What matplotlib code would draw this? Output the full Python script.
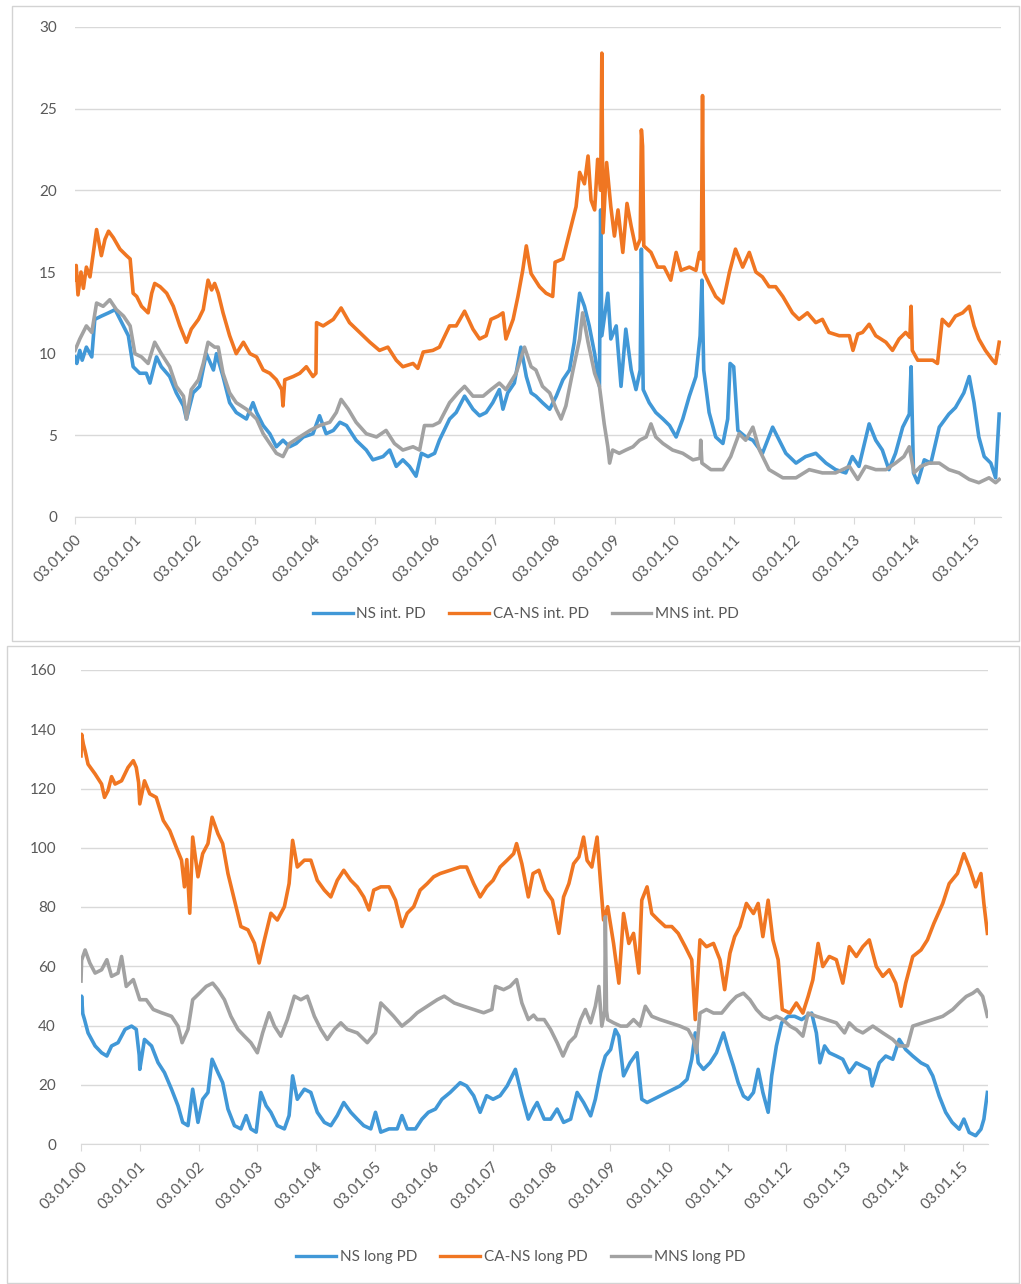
import numpy as np
import pandas as pd
import matplotlib
matplotlib.use("Agg")
import matplotlib.pyplot as plt
import matplotlib.dates as mdates
import matplotlib.transforms as mtransforms
from matplotlib.patches import Rectangle

plt.rcParams["font.family"] = ["Lato", "DejaVu Sans"]

START = pd.Timestamp("2000-01-03")
TICK_DATES = [pd.Timestamp(f"20{y:02d}-01-03") for y in range(16)]

BLUE = "#4198d7"
ORANGE = "#f07622"
GRAY = "#a2a2a2"
TEXT = "#595959"
GRID = "#d9d9d9"

# series as (years after 03.01.2000, PD value)
ns_int = [
    (0.00, 9.8), (0.03, 9.4), (0.08, 10.2), (0.12, 9.6), (0.19, 10.4), (0.28, 9.8),
    (0.33, 12.1), (0.44, 12.3), (0.56, 12.5), (0.67, 12.7), (0.78, 11.9), (0.89, 11.1),
    (0.97, 9.2), (1.08, 8.8), (1.19, 8.8), (1.25, 8.2), (1.36, 9.8), (1.44, 9.2),
    (1.58, 8.6), (1.69, 7.6), (1.81, 6.8), (1.86, 6.0), (1.97, 7.6), (2.08, 8.0),
    (2.19, 10.0), (2.31, 9.0), (2.36, 10.0), (2.47, 8.6), (2.58, 7.0), (2.69, 6.4),
    (2.86, 6.0), (2.97, 7.0), (3.03, 6.4), (3.14, 5.6), (3.25, 5.1), (3.36, 4.3),
    (3.47, 4.7), (3.58, 4.3), (3.69, 4.5), (3.81, 4.9), (3.97, 5.1), (4.08, 6.2),
    (4.19, 5.1), (4.31, 5.3), (4.42, 5.8), (4.53, 5.6), (4.69, 4.7), (4.86, 4.1),
    (4.97, 3.5), (5.14, 3.7), (5.25, 4.1), (5.36, 3.1), (5.47, 3.5), (5.58, 3.1),
    (5.69, 2.5), (5.78, 3.9), (5.89, 3.7), (6.00, 3.9), (6.08, 4.7), (6.25, 6.0),
    (6.36, 6.4), (6.50, 7.4), (6.64, 6.6), (6.75, 6.2), (6.86, 6.4), (6.97, 7.0),
    (7.08, 7.8), (7.14, 6.6), (7.22, 7.6), (7.33, 8.2), (7.44, 10.4), (7.53, 8.6),
    (7.61, 7.6), (7.69, 7.4), (7.80, 7.0), (7.92, 6.6), (8.03, 7.4), (8.14, 8.4),
    (8.25, 9.0), (8.33, 10.7), (8.42, 13.7), (8.50, 12.9), (8.58, 11.7), (8.67, 10.0),
    (8.75, 8.0), (8.77, 18.8), (8.79, 11.1), (8.89, 13.7), (8.94, 10.9), (9.03, 11.7),
    (9.11, 8.0), (9.19, 11.5), (9.28, 9.0), (9.36, 7.8), (9.43, 9.0), (9.45, 16.4),
    (9.48, 7.8), (9.58, 7.0), (9.69, 6.4), (9.81, 6.0), (9.92, 5.6), (10.03, 4.9),
    (10.14, 6.0), (10.25, 7.4), (10.36, 8.6), (10.43, 11.1), (10.46, 14.5), (10.49, 9.0),
    (10.58, 6.4), (10.69, 4.9), (10.81, 4.5), (10.89, 6.0), (10.93, 9.4), (10.99, 9.2),
    (11.06, 5.3), (11.19, 4.9), (11.31, 4.7), (11.47, 3.9), (11.64, 5.5), (11.75, 4.7),
    (11.86, 3.9), (12.03, 3.3), (12.19, 3.7), (12.36, 3.9), (12.53, 3.3), (12.69, 2.9),
    (12.86, 2.7), (12.97, 3.7), (13.08, 3.1), (13.25, 5.7), (13.36, 4.7), (13.47, 4.1),
    (13.58, 2.9), (13.69, 3.9), (13.81, 5.5), (13.92, 6.3), (13.95, 9.2), (13.99, 2.7),
    (14.06, 2.1), (14.17, 3.5), (14.28, 3.3), (14.42, 5.5), (14.58, 6.3), (14.69, 6.7),
    (14.83, 7.6), (14.92, 8.6), (15.00, 7.0), (15.08, 4.9), (15.17, 3.7), (15.28, 3.3),
    (15.36, 2.4), (15.42, 6.3),
]
cans_int = [
    (0.00, 14.5), (0.02, 15.4), (0.05, 13.6), (0.10, 15.0), (0.14, 14.0), (0.19, 15.3),
    (0.25, 14.7), (0.30, 16.0), (0.33, 16.8), (0.36, 17.6), (0.44, 16.0), (0.50, 17.0),
    (0.56, 17.5), (0.64, 17.1), (0.75, 16.4), (0.86, 16.0), (0.92, 15.8), (0.97, 13.7),
    (1.03, 13.5), (1.11, 12.9), (1.22, 12.5), (1.28, 13.7), (1.33, 14.3), (1.42, 14.1),
    (1.53, 13.7), (1.64, 12.9), (1.75, 11.7), (1.86, 10.7), (1.94, 11.5), (2.06, 12.1),
    (2.14, 12.7), (2.22, 14.5), (2.28, 13.9), (2.33, 14.3), (2.39, 13.7), (2.47, 12.5),
    (2.58, 11.1), (2.69, 10.0), (2.81, 10.7), (2.92, 10.0), (3.03, 9.8), (3.14, 9.0),
    (3.25, 8.8), (3.36, 8.4), (3.45, 7.8), (3.47, 6.8), (3.50, 8.4), (3.64, 8.6),
    (3.75, 8.8), (3.86, 9.2), (3.97, 8.6), (4.02, 8.8), (4.03, 11.9), (4.14, 11.7),
    (4.31, 12.1), (4.44, 12.8), (4.58, 11.9), (4.75, 11.3), (4.92, 10.7), (5.08, 10.2),
    (5.22, 10.4), (5.36, 9.6), (5.47, 9.2), (5.64, 9.4), (5.72, 9.1), (5.81, 10.1),
    (5.97, 10.2), (6.08, 10.4), (6.25, 11.7), (6.36, 11.7), (6.50, 12.6), (6.64, 11.5),
    (6.75, 10.9), (6.86, 11.1), (6.94, 12.1), (7.06, 12.3), (7.14, 12.5), (7.19, 10.9),
    (7.31, 12.1), (7.39, 13.5), (7.47, 15.1), (7.53, 16.6), (7.58, 15.5), (7.61, 14.9),
    (7.75, 14.1), (7.86, 13.7), (7.97, 13.5), (8.01, 15.6), (8.14, 15.8), (8.25, 17.4),
    (8.36, 19.0), (8.42, 21.1), (8.50, 20.4), (8.56, 22.1), (8.61, 19.4), (8.67, 18.8),
    (8.72, 21.9), (8.77, 20.0), (8.79, 28.4), (8.81, 17.4), (8.87, 21.7), (8.94, 19.0),
    (9.00, 17.2), (9.06, 18.8), (9.14, 16.2), (9.21, 19.2), (9.28, 17.8), (9.36, 16.4),
    (9.43, 17.0), (9.45, 23.7), (9.47, 22.7), (9.49, 16.6), (9.61, 16.2), (9.72, 15.3),
    (9.83, 15.3), (9.94, 14.5), (10.03, 16.2), (10.11, 15.1), (10.25, 15.3), (10.36, 15.1),
    (10.42, 16.2), (10.45, 15.8), (10.47, 25.8), (10.49, 15.0), (10.58, 14.3), (10.69, 13.5),
    (10.81, 13.1), (10.92, 15.0), (11.02, 16.4), (11.14, 15.3), (11.25, 16.2), (11.36, 15.0),
    (11.47, 14.7), (11.58, 14.1), (11.69, 14.1), (11.81, 13.5), (11.97, 12.5), (12.08, 12.1),
    (12.22, 12.5), (12.36, 11.9), (12.47, 12.1), (12.58, 11.3), (12.75, 11.1), (12.92, 11.1),
    (12.98, 10.2), (13.06, 11.2), (13.14, 11.3), (13.25, 11.8), (13.36, 11.1), (13.53, 10.7),
    (13.64, 10.2), (13.75, 10.9), (13.86, 11.3), (13.93, 11.0), (13.95, 12.9), (13.97, 10.2),
    (14.06, 9.6), (14.19, 9.6), (14.31, 9.6), (14.39, 9.4), (14.47, 12.1), (14.58, 11.7),
    (14.69, 12.3), (14.81, 12.5), (14.92, 12.9), (15.00, 11.7), (15.08, 10.9), (15.19, 10.2),
    (15.31, 9.6), (15.36, 9.4), (15.42, 10.7),
]
mns_int = [
    (0.00, 10.2), (0.08, 10.9), (0.19, 11.7), (0.28, 11.3), (0.36, 13.1), (0.47, 12.9),
    (0.58, 13.3), (0.69, 12.7), (0.81, 12.3), (0.92, 11.7), (1.00, 10.0), (1.11, 9.8),
    (1.22, 9.4), (1.33, 10.7), (1.44, 10.0), (1.58, 9.2), (1.69, 8.0), (1.81, 7.4),
    (1.86, 6.0), (1.94, 7.8), (2.06, 8.4), (2.14, 9.4), (2.22, 10.7), (2.33, 10.4),
    (2.39, 10.4), (2.47, 8.8), (2.58, 7.6), (2.69, 7.0), (2.86, 6.6), (3.03, 6.0),
    (3.14, 5.1), (3.25, 4.5), (3.36, 3.9), (3.47, 3.7), (3.58, 4.5), (3.75, 4.9),
    (3.92, 5.3), (4.08, 5.6), (4.25, 5.8), (4.36, 6.4), (4.44, 7.2), (4.56, 6.6),
    (4.69, 5.8), (4.86, 5.1), (5.03, 4.9), (5.19, 5.3), (5.33, 4.5), (5.47, 4.1),
    (5.64, 4.3), (5.75, 4.1), (5.83, 5.6), (5.97, 5.6), (6.08, 5.8), (6.25, 7.0),
    (6.39, 7.6), (6.50, 8.0), (6.64, 7.4), (6.81, 7.4), (6.94, 7.8), (7.08, 8.2),
    (7.19, 7.8), (7.36, 8.8), (7.50, 10.4), (7.61, 9.2), (7.69, 9.0), (7.80, 8.0),
    (7.92, 7.6), (8.03, 6.6), (8.11, 6.0), (8.19, 6.8), (8.31, 9.0), (8.42, 10.9),
    (8.47, 12.5), (8.56, 10.7), (8.67, 8.8), (8.75, 8.0), (8.83, 5.7), (8.89, 4.3),
    (8.92, 3.3), (8.97, 4.1), (9.08, 3.9), (9.19, 4.1), (9.31, 4.3), (9.42, 4.7),
    (9.53, 4.9), (9.61, 5.7), (9.69, 4.9), (9.81, 4.5), (9.97, 4.1), (10.14, 3.9),
    (10.31, 3.5), (10.43, 3.6), (10.44, 4.7), (10.46, 3.3), (10.61, 2.9), (10.81, 2.9),
    (10.94, 3.7), (11.08, 5.1), (11.19, 4.7), (11.31, 5.5), (11.42, 4.1), (11.58, 2.9),
    (11.81, 2.4), (12.03, 2.4), (12.25, 2.9), (12.47, 2.7), (12.69, 2.7), (12.92, 3.1),
    (13.06, 2.3), (13.19, 3.1), (13.36, 2.9), (13.53, 2.9), (13.69, 3.3), (13.83, 3.7),
    (13.92, 4.3), (14.00, 2.7), (14.11, 3.1), (14.25, 3.3), (14.42, 3.3), (14.58, 2.9),
    (14.75, 2.7), (14.92, 2.3), (15.08, 2.1), (15.25, 2.4), (15.36, 2.1), (15.42, 2.3),
]

ns_long = [
    (0.00, 45.0), (0.01, 49.9), (0.03, 44.0), (0.06, 42.0), (0.12, 37.5), (0.24, 33.1),
    (0.35, 30.8), (0.44, 29.7), (0.52, 33.1), (0.63, 34.2), (0.75, 38.7), (0.86, 39.8),
    (0.94, 38.7), (0.99, 30.0), (1.00, 25.2), (1.08, 35.3), (1.20, 33.1), (1.31, 27.5),
    (1.42, 24.1), (1.54, 18.5), (1.65, 12.9), (1.73, 7.3), (1.82, 6.2), (1.90, 18.5),
    (1.99, 7.3), (2.07, 15.1), (2.16, 17.4), (2.23, 28.6), (2.33, 24.1), (2.41, 20.7),
    (2.50, 11.8), (2.61, 6.2), (2.72, 5.1), (2.81, 9.6), (2.89, 5.1), (2.98, 4.0),
    (3.06, 17.4), (3.15, 12.9), (3.23, 10.7), (3.34, 6.2), (3.46, 5.1), (3.54, 9.6),
    (3.60, 23.0), (3.68, 15.1), (3.80, 18.5), (3.91, 17.4), (4.02, 10.7), (4.14, 7.3),
    (4.25, 6.2), (4.36, 9.6), (4.47, 14.0), (4.59, 10.7), (4.70, 8.4), (4.81, 6.2),
    (4.93, 5.1), (5.01, 10.7), (5.10, 4.0), (5.24, 5.1), (5.38, 5.1), (5.46, 9.6),
    (5.55, 5.1), (5.69, 5.1), (5.80, 8.4), (5.91, 10.7), (6.03, 11.8), (6.14, 15.1),
    (6.28, 17.4), (6.45, 20.7), (6.56, 19.6), (6.68, 16.3), (6.79, 10.7), (6.90, 16.3),
    (7.01, 15.1), (7.13, 16.3), (7.25, 19.6), (7.39, 25.2), (7.50, 16.3), (7.61, 8.4),
    (7.70, 12.0), (7.76, 14.0), (7.88, 8.4), (7.99, 8.4), (8.10, 11.8), (8.21, 7.3),
    (8.33, 8.4), (8.44, 17.4), (8.55, 14.0), (8.67, 9.5), (8.75, 15.1), (8.84, 24.1),
    (8.92, 29.7), (9.01, 31.9), (9.09, 38.6), (9.15, 36.4), (9.23, 23.0), (9.34, 27.4),
    (9.46, 30.8), (9.54, 15.1), (9.63, 14.0), (9.74, 15.1), (9.85, 16.2), (9.97, 17.4),
    (10.08, 18.5), (10.19, 19.6), (10.31, 21.8), (10.39, 28.6), (10.45, 37.5), (10.50, 27.4),
    (10.59, 25.2), (10.70, 27.4), (10.81, 30.8), (10.93, 37.5), (11.01, 31.9), (11.10, 26.3),
    (11.18, 20.7), (11.27, 16.2), (11.35, 15.1), (11.44, 17.4), (11.52, 25.2), (11.60, 17.4),
    (11.69, 10.7), (11.75, 23.0), (11.83, 33.1), (11.92, 40.9), (12.03, 43.1), (12.14, 43.1),
    (12.26, 42.0), (12.34, 43.1), (12.43, 44.2), (12.51, 37.5), (12.57, 27.4), (12.65, 33.1),
    (12.73, 30.8), (12.85, 29.7), (12.96, 28.6), (13.07, 24.1), (13.19, 27.4), (13.30, 26.3),
    (13.41, 25.2), (13.46, 19.6), (13.58, 27.4), (13.69, 29.7), (13.81, 28.6), (13.92, 35.3),
    (14.03, 31.9), (14.15, 29.7), (14.29, 27.4), (14.40, 26.3), (14.49, 23.0), (14.60, 16.2),
    (14.71, 10.7), (14.82, 7.3), (14.94, 5.0), (15.02, 8.4), (15.11, 3.9), (15.22, 2.8),
    (15.31, 5.0), (15.36, 8.4), (15.42, 17.4),
]
cans_long = [
    (0.00, 131.0), (0.01, 138.3), (0.04, 135.0), (0.07, 132.7), (0.12, 128.2), (0.24, 124.9),
    (0.35, 121.5), (0.40, 117.0), (0.46, 119.3), (0.52, 124.0), (0.58, 121.5), (0.69, 122.6),
    (0.80, 127.1), (0.89, 129.4), (0.94, 127.1), (0.98, 122.0), (1.00, 114.8), (1.08, 122.6),
    (1.17, 118.2), (1.28, 117.0), (1.40, 109.2), (1.51, 105.8), (1.62, 100.2), (1.71, 95.8),
    (1.76, 86.8), (1.80, 96.0), (1.85, 77.9), (1.90, 103.6), (1.99, 90.2), (2.07, 98.0),
    (2.16, 101.4), (2.23, 110.3), (2.33, 104.7), (2.41, 101.4), (2.50, 91.3), (2.61, 82.3),
    (2.72, 73.4), (2.84, 72.3), (2.95, 67.8), (3.03, 61.1), (3.12, 68.9), (3.23, 77.9),
    (3.34, 75.6), (3.46, 80.1), (3.54, 87.9), (3.60, 102.5), (3.68, 93.5), (3.80, 95.8),
    (3.91, 95.8), (4.02, 89.0), (4.14, 85.7), (4.25, 83.4), (4.36, 89.0), (4.47, 92.4),
    (4.59, 89.0), (4.70, 86.8), (4.81, 83.4), (4.90, 79.0), (4.98, 85.7), (5.10, 86.8),
    (5.24, 86.8), (5.35, 82.3), (5.46, 73.4), (5.55, 77.9), (5.66, 80.1), (5.77, 85.7),
    (5.89, 87.9), (6.00, 90.2), (6.11, 91.3), (6.28, 92.4), (6.45, 93.5), (6.56, 93.5),
    (6.68, 87.9), (6.79, 83.4), (6.90, 86.8), (7.01, 89.0), (7.13, 93.5), (7.25, 95.8),
    (7.36, 98.0), (7.41, 101.4), (7.50, 94.6), (7.61, 83.4), (7.69, 91.3), (7.79, 92.4),
    (7.90, 85.7), (8.02, 82.3), (8.13, 71.1), (8.21, 83.4), (8.30, 87.9), (8.38, 94.6),
    (8.47, 96.9), (8.55, 103.6), (8.61, 95.7), (8.69, 93.5), (8.78, 103.6), (8.84, 87.9),
    (8.89, 75.6), (8.96, 80.1), (9.06, 67.7), (9.15, 54.3), (9.23, 77.8), (9.32, 67.7),
    (9.40, 71.1), (9.49, 57.7), (9.54, 82.3), (9.63, 86.8), (9.71, 77.8), (9.82, 75.6),
    (9.94, 73.4), (10.05, 73.4), (10.16, 71.1), (10.28, 66.6), (10.39, 62.2), (10.45, 42.0),
    (10.53, 68.9), (10.64, 66.6), (10.76, 67.7), (10.87, 62.2), (10.95, 52.1), (11.04, 64.4),
    (11.12, 70.0), (11.21, 73.4), (11.32, 81.2), (11.44, 77.8), (11.52, 81.2), (11.60, 70.0),
    (11.69, 82.3), (11.77, 68.9), (11.86, 62.2), (11.93, 45.4), (12.06, 44.2), (12.17, 47.6),
    (12.28, 44.2), (12.37, 49.8), (12.45, 55.4), (12.54, 67.7), (12.62, 59.9), (12.73, 63.3),
    (12.85, 62.2), (12.96, 54.3), (13.07, 66.6), (13.19, 63.3), (13.30, 66.6), (13.41, 68.9),
    (13.53, 59.9), (13.64, 56.6), (13.75, 58.8), (13.86, 54.3), (13.95, 46.5), (14.03, 54.3),
    (14.15, 63.3), (14.29, 65.5), (14.40, 68.9), (14.51, 74.5), (14.66, 81.2), (14.77, 87.9),
    (14.91, 91.3), (15.02, 98.0), (15.11, 93.5), (15.22, 86.8), (15.31, 91.3), (15.36, 81.2),
    (15.42, 71.1),
]
mns_long = [
    (0.00, 55.0), (0.01, 62.0), (0.07, 65.5), (0.15, 61.1), (0.24, 57.7), (0.35, 58.8),
    (0.44, 62.2), (0.52, 56.6), (0.63, 57.7), (0.69, 63.3), (0.77, 53.2), (0.89, 55.5),
    (1.00, 48.7), (1.11, 48.7), (1.23, 45.4), (1.37, 44.3), (1.54, 43.1), (1.65, 39.8),
    (1.72, 34.2), (1.82, 38.7), (1.90, 48.7), (2.02, 51.0), (2.13, 53.2), (2.24, 54.3),
    (2.33, 52.1), (2.44, 48.7), (2.55, 43.1), (2.67, 38.7), (2.78, 36.4), (2.89, 34.2),
    (3.00, 30.8), (3.09, 37.5), (3.20, 44.3), (3.29, 39.8), (3.40, 36.4), (3.51, 42.0),
    (3.63, 49.9), (3.74, 48.7), (3.85, 49.9), (3.97, 43.1), (4.08, 38.7), (4.19, 35.3),
    (4.31, 38.7), (4.42, 40.9), (4.53, 38.7), (4.70, 37.5), (4.87, 34.2), (5.01, 37.5),
    (5.10, 47.6), (5.21, 45.4), (5.32, 43.1), (5.46, 39.8), (5.60, 42.0), (5.72, 44.3),
    (5.89, 46.5), (6.06, 48.7), (6.18, 49.9), (6.35, 47.6), (6.51, 46.5), (6.68, 45.4),
    (6.85, 44.3), (6.99, 45.4), (7.05, 53.2), (7.19, 52.1), (7.30, 53.2), (7.41, 55.5),
    (7.50, 47.6), (7.61, 42.0), (7.70, 43.5), (7.76, 42.0), (7.88, 42.0), (7.99, 38.6),
    (8.10, 34.2), (8.20, 29.7), (8.30, 34.2), (8.41, 36.4), (8.50, 42.0), (8.58, 45.4),
    (8.67, 40.9), (8.75, 46.5), (8.81, 53.2), (8.86, 39.8), (8.91, 45.0), (8.92, 76.7),
    (8.94, 45.0), (8.96, 42.0), (9.06, 40.9), (9.18, 39.8), (9.29, 39.8), (9.40, 42.0),
    (9.51, 39.8), (9.60, 46.5), (9.71, 43.1), (9.85, 42.0), (10.02, 40.9), (10.19, 39.8),
    (10.33, 38.6), (10.42, 35.3), (10.47, 30.8), (10.53, 44.2), (10.64, 45.4), (10.76, 44.2),
    (10.90, 44.2), (11.04, 47.6), (11.15, 49.8), (11.27, 50.9), (11.38, 48.7), (11.49, 45.4),
    (11.60, 43.1), (11.72, 42.0), (11.83, 43.1), (11.94, 42.0), (12.06, 39.8), (12.17, 38.6),
    (12.28, 36.4), (12.37, 44.2), (12.51, 43.1), (12.68, 42.0), (12.85, 40.9), (12.99, 37.5),
    (13.07, 40.9), (13.19, 38.6), (13.30, 37.5), (13.47, 39.8), (13.64, 37.5), (13.81, 35.3),
    (13.92, 33.1), (14.06, 33.1), (14.15, 39.8), (14.32, 40.9), (14.49, 42.0), (14.66, 43.1),
    (14.83, 45.4), (14.94, 47.6), (15.06, 49.8), (15.17, 50.9), (15.25, 52.1), (15.34, 49.8),
    (15.42, 43.1),
]


def to_dates(pairs):
    t, v = np.array(pairs).T
    return START + pd.to_timedelta(t * 365.25, unit="D"), v


def draw_panel(ax, series, ymax, ystep, xend, ypad):
    for pairs, color, label in series:
        d, v = to_dates(pairs)
        ax.plot(d, v, color=color, lw=2.6, label=label, solid_joinstyle="round")
    ax.set_ylim(0, ymax)
    ax.set_yticks(np.arange(0, ymax + 1, ystep))
    ax.set_xlim(START, START + pd.Timedelta(days=xend * 365.25))
    ax.set_xticks(TICK_DATES)
    ax.xaxis.set_major_formatter(mdates.DateFormatter("%d.%m.%y"))
    ax.grid(axis="y", color=GRID, lw=1.0)
    ax.set_axisbelow(True)
    for side in ["top", "right", "left"]:
        ax.spines[side].set_visible(False)
    ax.spines["bottom"].set_color(GRID)
    ax.tick_params(axis="y", length=0, pad=ypad, labelcolor=TEXT, labelsize=11)
    ax.tick_params(axis="x", length=5, color=GRID, pad=10, labelcolor=TEXT, labelsize=11)
    # nudge the slanted date labels a little to the right of their ticks
    shift = mtransforms.ScaledTranslation(4 / 100, 0, ax.figure.dpi_scale_trans)
    for lbl in ax.get_xticklabels():
        lbl.set_rotation(45)
        lbl.set_ha("right")
        lbl.set_va("center")
        lbl.set_rotation_mode("anchor")
        lbl.set_transform(lbl.get_transform() + shift)


W, H = 1021, 1284
fig = plt.figure(figsize=(W / 100, H / 100), dpi=100)


def px_box(x0, y0, x1, y1):
    return [x0 / W, 1 - y1 / H, (x1 - x0) / W, (y1 - y0) / H]


# panel frames
for x0, y0, x1, y1 in [(12, 6, 1019, 641), (7, 646, 1019, 1283)]:
    l, b, w, h = px_box(x0, y0, x1, y1)
    fig.add_artist(Rectangle((l, b), w, h, transform=fig.transFigure,
                             fill=False, edgecolor="#d3d3d3", lw=1.0))

ax1 = fig.add_axes(px_box(75, 27, 1001, 517))
draw_panel(ax1, [(ns_int, BLUE, "NS int. PD"),
                 (cans_int, ORANGE, "CA-NS int. PD"),
                 (mns_int, GRAY, "MNS int. PD")], 30, 5, 15.45, 13)

ax2 = fig.add_axes(px_box(81, 670, 988, 1144))
draw_panel(ax2, [(ns_long, BLUE, "NS long PD"),
                 (cans_long, ORANGE, "CA-NS long PD"),
                 (mns_long, GRAY, "MNS long PD")], 160, 20, 15.43, 18)

for ax, ycen, xcen in [(ax1, 614, 526), (ax2, 1257, 521)]:
    leg = ax.legend(loc="center", bbox_to_anchor=(xcen / W, 1 - ycen / H),
                    bbox_transform=fig.transFigure, ncol=3, frameon=False,
                    fontsize=11, handlelength=2.6, handletextpad=0.25,
                    columnspacing=1.5, borderaxespad=0)
    for txt in leg.get_texts():
        txt.set_color(TEXT)
    for line in leg.get_lines():
        line.set_linewidth(2.4)

fig.savefig("out.png", dpi=100)
